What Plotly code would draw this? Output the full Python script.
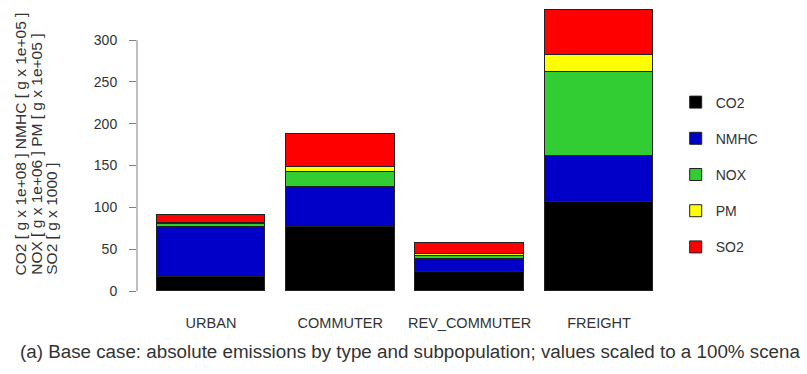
import plotly.graph_objects as go

# Subpopulations and emission types (scaled units, see axis title)
categories = ["URBAN", "COMMUTER", "REV_COMMUTER", "FREIGHT"]
pollutants = ["CO2", "NMHC", "NOX", "PM", "SO2"]
co2 = [17.0, 76.0, 23.0, 107.0]
nmhc = [59.2, 48.0, 15.3, 54.6]
nox = [4.0, 18.4, 4.0, 99.7]
pm = [1.5, 5.7, 1.5, 21.2]
so2 = [9.0, 39.5, 14.0, 53.6]
series = [co2, nmhc, nox, pm, so2]
colors = ["#000000", "#0000C8", "#32CD32", "#FFFF00", "#FF0000"]
y_ticks = [0, 50, 100, 150, 200, 250, 300]
y_title_lines = [
    "CO2 [ g x 1e+08 ] NMHC [ g x 1e+05 ]",
    "NOX [ g x 1e+06 ] PM [ g x 1e+05 ]",
    "SO2 [ g x 1000 ]",
]
caption = ("(a) Base case: absolute emissions by type and subpopulation; "
           "values scaled to a 100% scena")

FONT = "Liberation Sans, Arial, sans-serif"
TEXT = "#333333"
AXIS = "#808080"

fig = go.Figure()
for name, vals, col in zip(pollutants, series, colors):
    fig.add_trace(go.Bar(
        x=categories, y=vals, name=name, legendgroup=name,
        width=0.84,
        marker=dict(color=col, line=dict(color="#222222", width=1)),
    ))

# R-style y axis line that spans only the labelled ticks
fig.add_shape(type="line", xref="paper", yref="y",
              x0=0, x1=0, y0=y_ticks[0], y1=y_ticks[-1],
              line=dict(color=AXIS, width=1))

# three-line rotated y title, lines start at a common baseline
for i, line in enumerate(y_title_lines):
    fig.add_annotation(
        xref="paper", yref="paper", x=-0.222 + i * 0.0295, y=0.049,
        xanchor="center", yanchor="bottom", textangle=-90,
        showarrow=False, text=line,
        font=dict(family=FONT, size=15.5, color=TEXT),
    )

fig.add_annotation(
    xref="paper", yref="paper", x=-0.228, y=-0.213,
    xanchor="left", yanchor="middle", showarrow=False,
    text=caption,
    font=dict(family=FONT, size=18.8, color=TEXT),
)

fig.update_layout(
    width=807, height=374,
    margin=dict(l=137, r=147, t=5, b=83),
    paper_bgcolor="white", plot_bgcolor="white",
    barmode="stack", bargap=0,
    font=dict(family=FONT, size=14, color=TEXT),
    showlegend=True,
    legend=dict(
        x=1.03, y=0.715, xanchor="left", yanchor="top",
        traceorder="grouped", tracegroupgap=15,
        font=dict(family=FONT, size=14, color=TEXT),
        bgcolor="rgba(0,0,0,0)",
    ),
    xaxis=dict(
        range=[-0.572, 3.472], showline=False, showgrid=False,
        zeroline=False, ticks="", ticklabelstandoff=21,
        tickfont=dict(family=FONT, size=14.5, color=TEXT),
    ),
    yaxis=dict(
        range=[0, 342], showline=False, showgrid=False, zeroline=False,
        tickvals=y_ticks, ticks="outside", ticklen=7, tickcolor=AXIS,
        ticklabelstandoff=9,
        tickfont=dict(family=FONT, size=14, color=TEXT),
    ),
)

fig.write_html("out.html")
